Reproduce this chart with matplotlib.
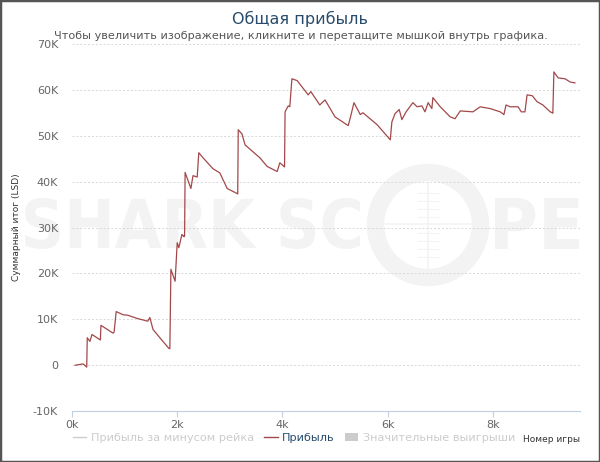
import matplotlib
matplotlib.use("Agg")
import matplotlib.pyplot as plt
from matplotlib.lines import Line2D
from matplotlib.patches import Patch, Circle, Rectangle, PathPatch
from matplotlib.textpath import TextPath
from matplotlib.font_manager import FontProperties
from matplotlib.transforms import Affine2D
import numpy as np

# cumulative profit (games in thousands, profit in K)
games_k = [0.06, 0.21, 0.28, 0.29, 0.34, 0.38, 0.54, 0.55, 0.78, 0.80, 0.84,
           0.97, 1.06, 1.24, 1.44, 1.48, 1.54, 1.67, 1.84, 1.86, 1.88, 1.96,
           2.00, 2.03, 2.09, 2.13, 2.14, 2.15, 2.26, 2.30, 2.38, 2.41, 2.49,
           2.68, 2.81, 2.95, 3.14, 3.15, 3.16, 3.23, 3.29, 3.57, 3.71, 3.90,
           3.95, 4.03, 4.04, 4.05, 4.11, 4.14, 4.18, 4.28, 4.49, 4.54, 4.71,
           4.81, 5.00, 5.25, 5.29, 5.36, 5.48, 5.53, 5.80, 6.05, 6.08, 6.14,
           6.22, 6.27, 6.35, 6.48, 6.56, 6.65, 6.71, 6.77, 6.84, 6.86, 7.00,
           7.19, 7.28, 7.38, 7.62, 7.76, 7.95, 8.14, 8.21, 8.25, 8.33, 8.48,
           8.54, 8.61, 8.65, 8.75, 8.84, 8.95, 9.09, 9.13, 9.14, 9.16, 9.24,
           9.37, 9.47, 9.56]
profit_k = [0.0, 0.3, -0.4, 6.0, 5.2, 6.7, 5.5, 8.7, 7.0, 7.2, 11.7,
            11.0, 10.9, 10.2, 9.6, 10.4, 7.8, 6.0, 3.7, 3.6, 20.9, 18.3,
            26.7, 25.6, 28.5, 28.0, 28.2, 42.0, 38.5, 41.3, 41.0, 46.3, 45.2,
            42.8, 41.9, 38.5, 37.4, 37.3, 51.3, 50.4, 48.0, 45.2, 43.3, 42.2,
            44.1, 43.3, 43.2, 55.2, 56.5, 56.3, 62.4, 62.0, 58.9, 59.6, 56.7,
            57.8, 54.1, 52.2, 53.9, 57.2, 54.6, 55.0, 52.4, 49.1, 53.0, 54.8,
            55.7, 53.5, 55.2, 57.2, 56.3, 56.5, 55.2, 57.2, 55.9, 58.3, 56.3,
            54.1, 53.7, 55.4, 55.2, 56.3, 55.9, 55.2, 54.6, 56.7, 56.3, 56.3,
            55.2, 55.2, 58.9, 58.7, 57.4, 56.7, 55.2, 55.0, 54.9, 63.9, 62.6,
            62.4, 61.7, 61.5]

y_ticks = [-10000, 0, 10000, 20000, 30000, 40000, 50000, 60000, 70000]
y_labels = ["-10K", "0", "10K", "20K", "30K", "40K", "50K", "60K", "70K"]
x_ticks = [0, 2000, 4000, 6000, 8000]
x_labels = ["0k", "2k", "4k", "6k", "8k"]

games = np.array(games_k) * 1000
profit = np.array(profit_k) * 1000

W, H = 600, 462
fig = plt.figure(figsize=(6, 4.62), dpi=100)
ax = fig.add_axes([0.12, 0.11, 0.847, 0.795])
ax.set_zorder(2)
ax.set_facecolor("none")

# watermark, drawn in pixel coordinates behind the axes
wm = "#f3f3f3"
fp = FontProperties(family="DejaVu Sans", weight="bold")


def stamp(s, x0, x1, ytop, ybot):
    p = TextPath((0, 0), s, size=1, prop=fp)
    b = p.get_extents()
    tr = (Affine2D().translate(-b.x0, -b.y0)
          .scale((x1 - x0) / b.width, (ybot - ytop) / b.height)
          .translate(x0, H - ybot))
    fig.patches.append(PathPatch(tr.transform_path(p), transform=None,
                                 fc=wm, ec="none", zorder=0))


stamp("SHARK SC", 25, 360, 198, 249)
stamp("PE", 495, 579, 198, 249)
cx, cy = 428, H - 225
fig.patches.append(Circle((cx, cy), 52.5, transform=None, fill=False,
                          lw=12.5, ec=wm, zorder=0))
fig.lines.append(Line2D([cx, cx], [cy - 45, cy + 42], transform=None,
                        color=wm, lw=1.2, zorder=0))
fig.lines.append(Line2D([cx - 44, cx + 44], [cy + 1, cy + 1], transform=None,
                        color=wm, lw=1.2, zorder=0))
for dy in [-32, -24, -16, -8, 8, 16, 24, 32]:
    fig.lines.append(Line2D([cx - 10, cx + 10], [cy + dy, cy + dy],
                            transform=None, color=wm, lw=0.8, zorder=0))

ax.plot(games, profit, color="#a3484a", lw=0.9, zorder=3)

ax.set_xlim(0, 9660)
ax.set_ylim(-10000, 70000)
ax.set_yticks(y_ticks)
ax.set_yticklabels(y_labels)
ax.set_xticks(x_ticks)
ax.set_xticklabels(x_labels)
ax.tick_params(axis="y", length=0, labelsize=8, labelcolor="#666666", pad=10)
ax.tick_params(axis="x", length=4, color="#c0d0e0", labelsize=8,
               labelcolor="#666666", pad=2)
ax.grid(axis="y", color="#d8d8d8", linestyle=(0, (2, 2)), lw=0.7)
for s in ["top", "right", "left"]:
    ax.spines[s].set_visible(False)
ax.spines["bottom"].set_color("#c0d0e0")

ax.set_ylabel("Суммарный итог (LSD)", fontsize=6.5, color="#333333")
ax.yaxis.set_label_coords(-0.101, 0.5)

fig.text(0.5, 0.96, "Общая прибыль", ha="center", va="center", fontsize=11.5,
         color="#274b6d")
fig.text(0.502, 0.921, "Чтобы увеличить изображение, кликните и перетащите мышкой внутрь графика.",
         ha="center", va="center", fontsize=8.1, color="#555555")
fig.text(0.966, 0.049, "Номер игры", ha="right", va="center", fontsize=6.5,
         color="#333333")

handles = [Line2D([], [], color="#cccccc", lw=1),
           Line2D([], [], color="#a3484a", lw=1),
           Patch(facecolor="#cccccc", edgecolor="none")]
leg = fig.legend(handles, ["Прибыль за минусом рейка", "Прибыль", "Значительные выигрыши"],
                 loc="center", bbox_to_anchor=(0.49, 0.053), ncol=3, frameon=False,
                 fontsize=8.1, handlelength=1.2, handletextpad=0.4, columnspacing=0.9)
txt = leg.get_texts()
txt[0].set_color("#cccccc")
txt[1].set_color("#274b6d")
txt[2].set_color("#cccccc")

fig.patches.append(Rectangle((0, 0), 1, 1, transform=fig.transFigure, fill=False,
                             ec="#555555", lw=2.5))

fig.savefig("out.png", dpi=100)
